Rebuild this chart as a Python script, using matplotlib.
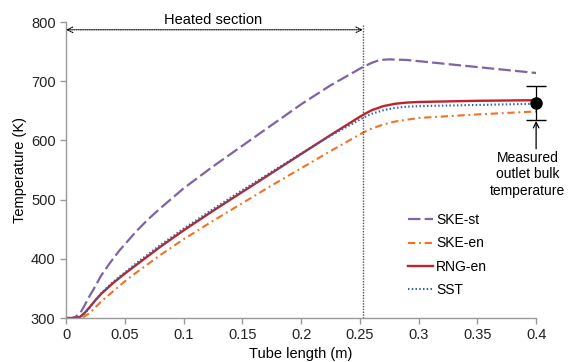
import matplotlib
matplotlib.use("Agg")
import matplotlib.pyplot as plt

plt.rcParams['font.family'] = ['Liberation Sans', 'DejaVu Sans']

# values (tube length in m, temperature in K)
ske_st_x = [0, 0.005, 0.008, 0.012, 0.016, 0.02, 0.023, 0.03, 0.037, 0.045, 0.06, 0.07, 0.08,
            0.1, 0.125, 0.15, 0.175, 0.2, 0.225, 0.2525, 0.26, 0.267, 0.275, 0.29, 0.3, 0.35, 0.4]
ske_st_y = [300, 300, 302, 308, 322, 337, 347, 372, 392, 413, 447, 467, 485,
            519, 556, 591, 626, 661, 693, 724, 731, 736, 737, 736, 734, 724, 714]

ske_en_x = [0, 0.01, 0.015, 0.02, 0.025, 0.03, 0.04, 0.05, 0.06, 0.08, 0.1, 0.125, 0.15,
            0.175, 0.2, 0.225, 0.2525, 0.26, 0.27, 0.28, 0.29, 0.3, 0.35, 0.4]
ske_en_y = [300, 300, 302, 308, 318, 328, 345, 362, 377, 406, 433, 464, 494,
            524, 553, 582, 613, 620, 627, 632, 635, 638, 644, 649]

rng_x = [0, 0.008, 0.012, 0.016, 0.02, 0.025, 0.03, 0.04, 0.05, 0.06, 0.08, 0.1, 0.125,
         0.15, 0.175, 0.2, 0.225, 0.25, 0.2525, 0.26, 0.27, 0.28, 0.29, 0.3, 0.35, 0.4]
rng_y = [300, 300, 302, 309, 318, 330, 341, 359, 375, 390, 420, 448, 481,
         513, 545, 577, 609, 640, 643, 651, 658, 662, 664, 665, 667, 668]

sst_x = rng_x
sst_y = [300, 300, 302, 308, 317, 330, 342, 361, 377, 393, 423, 451, 484,
         516, 547, 578, 608, 635, 638, 645, 651, 655, 657, 658, 660, 662]

heated_end = 0.2525
measured_x = 0.4
measured_t = 664
measured_lo = 634
measured_hi = 692

x_ticks = [0, 0.05, 0.1, 0.15, 0.2, 0.25, 0.3, 0.35, 0.4]
x_tick_labels = ['0', '0.05', '0.1', '0.15', '0.2', '0.25', '0.3', '0.35', '0.4']
y_ticks = [300, 400, 500, 600, 700, 800]

fig = plt.figure(figsize=(5.74, 3.62), dpi=100)
ax = fig.add_axes([0.115, 0.1215, 0.819, 0.8175])

ax.plot(ske_st_x, ske_st_y, color='#8064A2', lw=1.6, dashes=(5.6, 1.9), label='SKE-st')
ax.plot(ske_en_x, ske_en_y, color='#EE7326', lw=1.5, dashes=(3.5, 1.8, 0.9, 1.8), label='SKE-en')
ax.plot(rng_x, rng_y, color='#C0232B', lw=1.7, label='RNG-en')
ax.plot(sst_x, sst_y, color='#2E62A8', lw=1.5, dashes=(0.7, 1.1), label='SST')

# measured outlet temperature with error bar
eb = ax.errorbar([measured_x], [measured_t],
                 yerr=[[measured_t - measured_lo], [measured_hi - measured_t]],
                 fmt='o', color='black', ms=8, capsize=7, elinewidth=0.9, capthick=1.0,
                 zorder=5)
eb[0].set_clip_on(False)
for c in eb[1]:
    c.set_clip_on(False)
    c.set_color('#777777')
for b in eb[2]:
    b.set_clip_on(False)
ax.annotate('', xy=(measured_x, measured_lo - 1), xytext=(measured_x, 586),
            arrowprops=dict(arrowstyle='->', color='black', lw=0.9, shrinkA=0, shrinkB=0),
            annotation_clip=False)
ax.text(0.393, 583, 'Measured\noutlet bulk\ntemperature', ha='center', va='top',
        fontsize=10, linespacing=1.25)

# heated section marker
ax.plot([heated_end, heated_end], [300, 795], color='#555555', lw=1.0, ls=(0, (1, 1)))
ax.annotate('', xy=(0, 787), xytext=(heated_end, 787),
            arrowprops=dict(arrowstyle='<->', color='black', lw=0.8, ls=(0, (1, 1)),
                            shrinkA=0, shrinkB=0))
ax.text(0.125, 803, 'Heated section', ha='center', va='center', fontsize=10.5)

ax.set_xlim(0, 0.4)
ax.set_ylim(300, 800)
ax.set_xticks(x_ticks)
ax.set_xticklabels(x_tick_labels)
ax.set_yticks(y_ticks)
ax.tick_params(labelsize=10.5, length=4, width=1, colors='#222222')
ax.tick_params(axis='both', which='both', color='#999999')
for s in ['top', 'right']:
    ax.spines[s].set_visible(False)
for s in ['left', 'bottom']:
    ax.spines[s].set_color('#999999')
    ax.spines[s].set_linewidth(1.0)

ax.set_xlabel('Tube length (m)', fontsize=10.5, labelpad=3)
ax.set_ylabel('Temperature (K)', fontsize=10.5, labelpad=3)

ax.legend(loc='upper left', bbox_to_anchor=(0.728, 0.355), frameon=False, fontsize=10,
          handlelength=1.8, handletextpad=0.2, labelspacing=0.68, borderpad=0,
          borderaxespad=0)

fig.savefig('out.png', dpi=100)
